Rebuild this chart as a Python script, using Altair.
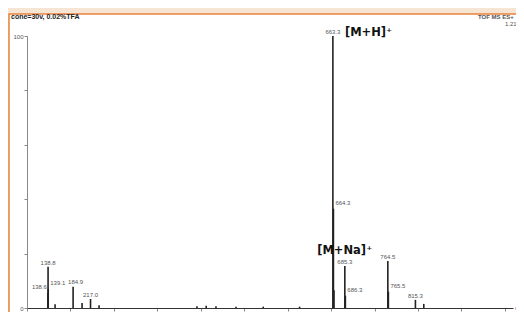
import altair as alt
import pandas as pd

# ---- data ----
peak_mz = [138.6, 138.8, 139.1, 151.7, 184.9, 201.4, 217.0, 232.7, 413.0, 430.0, 448.0,
           485.0, 535.0, 602.0, 663.3, 664.3, 665.3, 685.3, 686.3, 764.5, 765.5, 815.3, 830.7]
peak_int = [5.5, 15.2, 7.0, 1.4, 7.8, 1.8, 3.3, 1.0, 0.6, 0.8, 0.6,
            0.5, 0.5, 0.5, 100.0, 36.5, 6.5, 15.4, 4.5, 17.3, 6.0, 3.0, 1.5]

center_mz = [663.3, 685.3, 764.5, 815.3, 138.8, 217.0]
center_int = [100.0, 15.4, 17.3, 3.0, 15.2, 3.3]
center_txt = ["663.3", "685.3", "764.5", "815.3", "138.8", "217.0"]

shift_mz = [184.9]
shift_int = [7.8]
shift_txt = ["184.9"]

right_mz = [664.3, 686.3, 765.5, 139.1]
right_int = [36.5, 4.5, 6.0, 7.0]
right_txt = ["664.3", "686.3", "765.5", "139.1"]

left_mz = [138.6]
left_int = [5.5]
left_txt = ["138.6"]

ion_txt = ["[M+H]⁺", "[M+Na]⁺"]
ion_mz = [663.3, 685.0]
ion_int = [101.0, 21.0]

x_ticks = list(range(100, 1000, 10))
y_ticks = list(range(0, 101, 10))

W, H = 486, 272
xs = alt.Scale(domain=[100, 995], nice=False)
ys = alt.Scale(domain=[0, 100], nice=False)

peaks = pd.DataFrame({"mz": peak_mz, "inten": peak_int})
cl = pd.DataFrame({"mz": center_mz, "inten": center_int, "t": center_txt})
sl = pd.DataFrame({"mz": shift_mz, "inten": shift_int, "t": shift_txt})
rl = pd.DataFrame({"mz": right_mz, "inten": right_int, "t": right_txt})
ll = pd.DataFrame({"mz": left_mz, "inten": left_int, "t": left_txt})
ions = pd.DataFrame({"mz": ion_mz[:1], "inten": ion_int[:1], "t": ion_txt[:1]})
ions2 = pd.DataFrame({"mz": ion_mz[1:], "inten": ion_int[1:], "t": ion_txt[1:]})

frame = alt.Chart(pd.DataFrame({"a": [0]})).mark_rect(
    fill="white", stroke="#e9813f", strokeWidth=1.5
).encode(x=alt.value(-18), x2=alt.value(700), y=alt.value(-22), y2=alt.value(500))

rules = alt.Chart(peaks).mark_rule(color="#222", strokeWidth=1.6).encode(
    x=alt.X("mz:Q", scale=xs, axis=alt.Axis(values=x_ticks, labels=False, title=None,
                                             grid=False, tickSize=3, domainColor="#333",
                                             tickColor="#555", tickWidth=0.7, zindex=1)),
    y=alt.Y("inten:Q", scale=ys, axis=alt.Axis(values=y_ticks, title=None, grid=False,
                                                tickSize=3, domainColor="#888", tickColor="#888",
                                                labelFontSize=6, labelColor="#555", labelPadding=1,
                                                zindex=1,
                                                labelExpr="datum.value==100 ? '100' : datum.value==0 ? '0' : datum.value==50 ? '%' : ''")),
    y2=alt.datum(0),
)

lab_style = dict(fontSize=6, color="#555", font="Liberation Sans")
enc = dict(x=alt.X("mz:Q", scale=xs), y=alt.Y("inten:Q", scale=ys), text="t:N")
c_text = alt.Chart(cl).mark_text(align="center", baseline="bottom", dy=-1, **lab_style).encode(**enc)
s_text = alt.Chart(sl).mark_text(align="left", baseline="bottom", dx=-5, dy=-2, **lab_style).encode(**enc)
r_text = alt.Chart(rl).mark_text(align="left", baseline="bottom", dx=2, dy=-3, **lab_style).encode(**enc)
l_text = alt.Chart(ll).mark_text(align="right", baseline="bottom", dx=-1, dy=-3, **lab_style).encode(**enc)

ion_style = dict(fontSize=11.5, fontWeight="bold", color="#111", font="DejaVu Sans")
ion_text = alt.Chart(ions).mark_text(align="left", baseline="middle", dx=12, **ion_style).encode(**enc)
ion_text2 = alt.Chart(ions2).mark_text(align="center", baseline="middle", **ion_style).encode(**enc)

hdr = pd.DataFrame({"t": ["cone=30v, 0.02%TFA"]})
title_t = alt.Chart(hdr).mark_text(align="left", baseline="middle", fontSize=7, fontWeight="bold",
                                   color="#222", font="Liberation Sans").encode(
    x=alt.value(-16), y=alt.value(-19), text="t:N")
tof = alt.Chart(pd.DataFrame({"t": ["TOF MS ES+"]})).mark_text(
    align="left", baseline="middle", fontSize=6, fontWeight="bold", color="#555",
    font="Liberation Sans").encode(x=alt.value(451), y=alt.value(-19), text="t:N")
tof2 = alt.Chart(pd.DataFrame({"t": ["1.21e3"]})).mark_text(
    align="left", baseline="middle", fontSize=6, color="#555",
    font="Liberation Sans").encode(x=alt.value(478), y=alt.value(-12), text="t:N")
mz_t = alt.Chart(pd.DataFrame({"t": ["m/z"]})).mark_text(
    align="left", baseline="middle", fontSize=6, color="#777",
    font="Liberation Sans").encode(x=alt.value(488), y=alt.value(272), text="t:N")

chart = alt.layer(frame, rules, c_text, s_text, r_text, l_text, ion_text, ion_text2,
                  title_t, tof, tof2, mz_t).properties(
    width=W, height=H,
    background="#f6e5d2",
    autosize=alt.AutoSizeParams(type="none"),
    padding={"left": 19, "top": 28, "right": 3, "bottom": 4},
).configure_view(stroke=None)

chart.save("out.html", embed_options={"renderer": "svg", "actions": False})
